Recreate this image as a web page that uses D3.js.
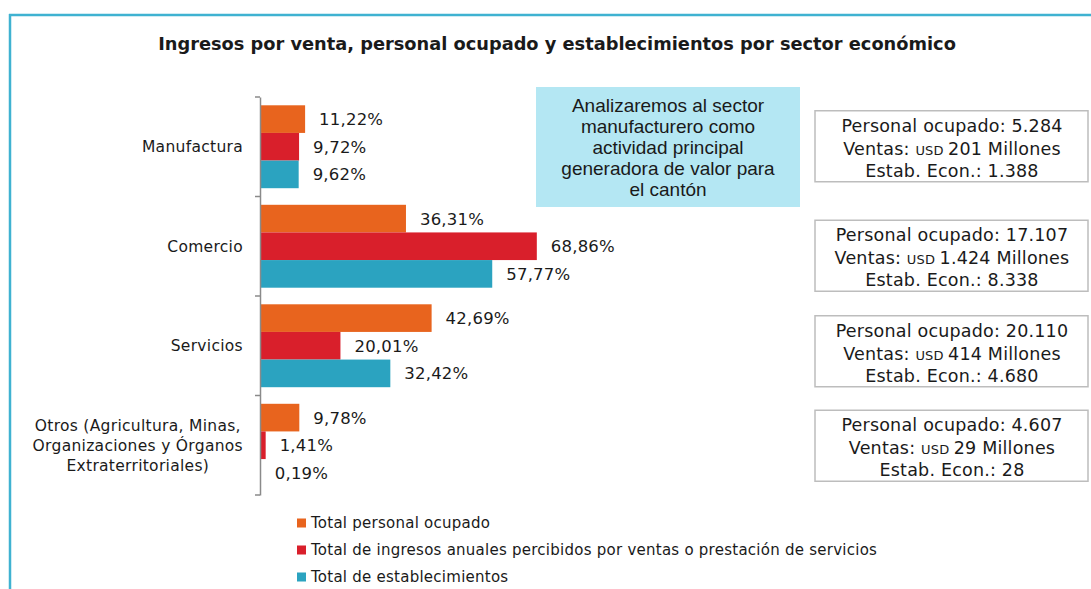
<!DOCTYPE html>
<html>
<head>
<meta charset="utf-8">
<script src="https://cdn.jsdelivr.net/npm/d3@7"></script>
<style>
  body { margin: 0; background: #fff; }
  text { font-family: "DejaVu Sans", sans-serif; fill: #1a1a1a; }
</style>
</head>
<body>
<div id="chart"></div>
<script>
// data
const categories = ["Manufactura", "Comercio", "Servicios", "Otros"];
const categoryLines = [
    ["Manufactura"],
    ["Comercio"],
    ["Servicios"],
    ["Otros (Agricultura, Minas,", "Organizaciones y Órganos", "Extraterritoriales)"]
];
const seriesNames = [
    "Total personal ocupado",
    "Total de ingresos anuales percibidos por ventas o prestación de servicios",
    "Total de establecimientos"
];
const personalPct = [11.22, 36.31, 42.69, 9.78];
const ingresosPct = [9.72, 68.86, 20.01, 1.41];
const establecimientosPct = [9.62, 57.77, 32.42, 0.19];

const personalOcupado = ["5.284", "17.107", "20.110", "4.607"];
const ventasMillones = ["201", "1.424", "414", "29"];
const estabEcon = ["1.388", "8.338", "4.680", "28"];

const noteLines = ["Analizaremos al sector", "manufacturero como", "actividad principal", "generadora de valor  para", "el cantón"];
const title = "Ingresos por venta, personal ocupado y establecimientos por sector económico";

const seriesValues = [personalPct, ingresosPct, establecimientosPct];
const colors = ["#E8641E", "#D91F2B", "#2BA3C0"];

const width = 1091, height = 589;

const svg = d3.select("#chart")
    .append("svg")
    .attr("width", width)
    .attr("height", height);

// frame lines (top and left)
svg.append("line")
    .attr("x1", 9).attr("x2", width).attr("y1", 15).attr("y2", 15)
    .attr("stroke", "#3FB2D1").attr("stroke-width", 2.5);
svg.append("line")
    .attr("x1", 10).attr("x2", 10).attr("y1", 14).attr("y2", height)
    .attr("stroke", "#3FB2D1").attr("stroke-width", 2.5);

// title
svg.append("text")
    .attr("x", 557).attr("y", 50)
    .attr("text-anchor", "middle")
    .style("font-weight", "bold")
    .style("font-size", "17.8px")
    .text(title);

// scales
const y0 = d3.scaleBand()
    .domain(categories)
    .range([97, 495]);

const y1 = d3.scaleBand()
    .domain(d3.range(seriesNames.length))
    .range([0, y0.bandwidth()])
    .paddingOuter(0.3);

const x = d3.scaleLinear()
    .domain([0, 100])
    .range([260, 662]);

// bars
const rows = categories.map((c, i) => ({
    cat: c,
    vals: seriesValues.map((s, k) => ({ k: k, v: s[i] }))
}));

const group = svg.append("g")
    .selectAll("g")
    .data(rows)
    .enter()
    .append("g")
    .attr("transform", d => `translate(0,${y0(d.cat)})`);

group.selectAll("rect")
    .data(d => d.vals)
    .enter()
    .append("rect")
    .attr("x", x(0))
    .attr("y", d => y1(d.k))
    .attr("width", d => x(d.v) - x(0))
    .attr("height", y1.bandwidth())
    .attr("fill", d => colors[d.k]);

group.selectAll("text")
    .data(d => d.vals)
    .enter()
    .append("text")
    .attr("x", d => x(d.v) + 14)
    .attr("y", d => y1(d.k) + y1.bandwidth() / 2)
    .attr("dy", "0.36em")
    .style("font-size", "16.5px")
    .style("letter-spacing", "0.2px")
    .text(d => d.v.toFixed(2).replace(".", ",") + "%");

// axis
const axis = svg.append("g")
    .attr("transform", `translate(${x(0)},0)`)
    .call(d3.axisLeft(y0).tickSize(0).tickFormat(""));
axis.select(".domain").attr("stroke", "#8a8a8a").attr("stroke-width", 1.5);

// boundary ticks between categories
const bounds = categories.map(c => y0(c)).concat([y0.range()[1]]);
svg.append("g")
    .selectAll("line")
    .data(bounds)
    .enter()
    .append("line")
    .attr("x1", x(0) - 5).attr("x2", x(0))
    .attr("y1", d => d).attr("y2", d => d)
    .attr("stroke", "#8a8a8a").attr("stroke-width", 1.5);

// category labels: block right aligned, lines centered within block
const catLabel = svg.append("g")
    .selectAll("g")
    .data(categories)
    .enter()
    .append("g");

catLabel.each(function (c, i) {
    const g = d3.select(this);
    const lines = categoryLines[i];
    const lh = 20;
    const cy = y0(c) + y0.bandwidth() / 2;
    const texts = g.selectAll("text")
        .data(lines)
        .enter()
        .append("text")
        .style("font-size", "15.5px")
        .style("letter-spacing", "0.3px")
        .attr("y", (d, j) => cy + (j - (lines.length - 1) / 2) * lh)
        .attr("dy", "0.35em")
        .attr("text-anchor", "middle")
        .text(d => d);
    let maxW = 0;
    texts.each(function () { maxW = Math.max(maxW, this.getComputedTextLength()); });
    texts.attr("x", 243 - maxW / 2);
});

// note box
const note = svg.append("g");
note.append("rect")
    .attr("x", 536).attr("y", 87)
    .attr("width", 264).attr("height", 120)
    .attr("fill", "#B4E7F3");
note.selectAll("text")
    .data(noteLines)
    .enter()
    .append("text")
    .attr("x", 668)
    .attr("y", (d, j) => 105 + j * 21)
    .attr("dy", "0.35em")
    .attr("text-anchor", "middle")
    .style("font-family", "'Liberation Sans', Arial, sans-serif")
    .style("font-size", "19px")
    .text(d => d);

// info boxes per sector
const boxShift = [0, 10, 6, 1];
const info = svg.append("g")
    .selectAll("g")
    .data(categories)
    .enter()
    .append("g")
    .attr("transform", (c, i) => `translate(815,${y0(c) + y0.bandwidth() / 2 - 36 + boxShift[i]})`);

info.append("rect")
    .attr("width", 273).attr("height", 71)
    .attr("fill", "#fff")
    .attr("stroke", "#bdbdbd").attr("stroke-width", 1.5);

const infoText = (sel, yy) => sel.append("text")
    .attr("x", 137).attr("y", yy).attr("dy", "0.35em")
    .attr("text-anchor", "middle")
    .style("font-size", "17.5px")
    .style("letter-spacing", "0.2px");

infoText(info, 15)
    .text((c, i) => "Personal ocupado: " + personalOcupado[i]);

const ventas = infoText(info, 38);
ventas.append("tspan").text("Ventas: ");
ventas.append("tspan").style("font-size", "13px").text("USD ");
ventas.append("tspan").text((c, i) => ventasMillones[i] + " Millones");

infoText(info, 60)
    .text((c, i) => "Estab. Econ.: " + estabEcon[i]);

// legend
const legend = svg.append("g")
    .selectAll("g")
    .data(seriesNames)
    .enter()
    .append("g")
    .attr("transform", (d, i) => `translate(297,${523 + i * 27})`);

legend.append("rect")
    .attr("x", 0).attr("y", -4.5)
    .attr("width", 9).attr("height", 9)
    .attr("fill", (d, i) => colors[i]);

legend.append("text")
    .attr("x", 14).attr("y", 0).attr("dy", "0.35em")
    .style("font-size", "15px")
    .style("letter-spacing", "0.25px")
    .text(d => d);
</script>
</body>
</html>
